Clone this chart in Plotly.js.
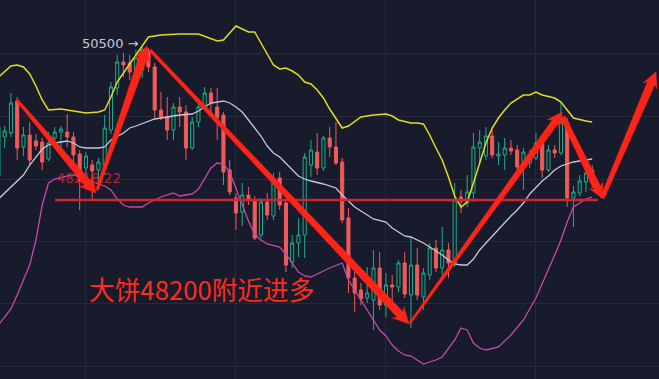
<!DOCTYPE html>
<html>
<head>
<meta charset="utf-8">
<script src="https://cdn.plot.ly/plotly-3.0.1.min.js"></script>
<style>
html,body{margin:0;padding:0;background:#171b2c;}
#chart{width:659px;height:379px;}
</style>
</head>
<body>
<div id="chart"></div>
<script>
// ---- candle data (index 0..95) ----
const openP  = [48560,49145,49205,49685,48995,49175,49085,49070,48815,49130,49220,49220,49145,48890,48680,48725,48650,48725,49250,49880,50270,50255,50105,50150,50420,50195,49550,49445,49250,49595,49520,48980,49370,49595,49805,49595,49475,48650,48230,48020,48275,48200,47675,48170,47960,48530,48155,47270,47555,47675,48725,48920,48680,49130,48995,48770,47930,47030,46850,46730,46700,47180,46625,46925,46895,47255,46775,47225,46745,47075,47480,47180,47450,47255,48245,48155,48305,48980,48860,49160,48860,48875,48980,48950,48725,48755,48830,49055,48650,48950,48905,49370,48230,48305,48470,48650];
const highP  = [49400,49310,49805,49745,49295,49370,49190,49130,49220,49295,49310,49490,49220,48950,48920,48800,48830,49475,49970,50375,50405,50375,50450,50500,50480,50255,49820,49745,49655,49745,49625,49445,49730,49895,49880,49880,49520,48800,48305,48455,48395,48260,48230,48305,48605,48620,48200,47675,47930,48905,49100,49205,49160,49295,49370,48830,48080,47120,46955,47195,47450,47420,47105,47075,47300,47420,47645,47480,47180,47555,47600,47795,47555,48455,48350,48575,49205,49250,49295,49250,49070,49130,49100,49025,48980,48950,49205,49100,49025,49025,49670,49430,48410,48575,48680,48725];
const lowP   = [48470,48980,49145,48800,48860,48725,48950,48650,48785,49010,48980,48995,48755,48050,48575,48218,48425,48575,49190,49775,50045,50000,50000,50030,50120,49430,49400,49100,49100,49295,48800,48950,49295,49550,49520,49100,48425,48275,47750,47810,48125,47600,47630,47900,47900,48050,47120,47180,47345,47330,48545,48575,48635,48845,48725,47855,46805,46520,46625,46655,46250,46550,46445,46670,46820,46730,46280,46700,46550,47000,47120,47075,47030,47195,48005,48095,48170,48725,48800,48830,48725,48650,48875,48650,48350,48680,48800,48530,48620,48830,48875,48095,47795,48260,48320,48380];
const closeP = [49295,49235,49655,48980,49175,48800,49010,48770,49055,49220,49265,49145,48875,48485,48860,48635,48770,49280,49895,50270,50225,50120,50330,50450,50195,49550,49445,49250,49595,49520,48980,49370,49595,49805,49655,49430,48620,48320,48005,48275,48200,47630,48170,47975,48455,48125,47225,47555,47675,48845,48950,48680,49130,48995,48755,47900,47030,46805,46715,46805,47180,46625,46925,46895,47255,46790,47225,46775,47105,47480,47180,47450,47255,48200,48185,48320,48995,49070,49160,48875,48890,48980,48935,48695,48920,48860,49055,48650,48950,48905,49370,48230,48320,48485,48605,48455];

// ---- Bollinger bands ----
const upperX = [0,2,3,4,5,6,7,8,10,11,13,14,16,17,18,19,20,21,22,23,24,26,29,32,34,35,36,37,38,40,41,42,43,44,45,46,47,48,49,50,51,52,53,54,55,56,58,60,62,63,64,66,67,68,69,70,71,72,73,74,75,76,77,78,79,80,81,82,84,85,86,87,89,90,91,92,94,95];
const upperY = [50045,50210,50225,50195,50090,49910,49700,49550,49565,49550,49520,49505,49520,49550,49745,49970,50105,50240,50360,50510,50645,50675,50690,50690,50615,50585,50600,50705,50810,50720,50720,50555,50390,50225,50165,50180,50135,50075,49970,49940,49850,49730,49565,49430,49280,49310,49445,49475,49490,49460,49400,49355,49355,49340,49175,48980,48800,48545,48260,48095,48170,48455,48755,49055,49280,49430,49550,49655,49775,49775,49820,49775,49730,49670,49550,49430,49385,49370];
const midX = [0,2,3,4,5,6,7,8,9,10,11,12,13,14,16,17,18,20,21,22,24,25,27,29,31,32,33,34,36,37,38,39,40,41,42,43,44,45,46,47,48,49,50,52,54,55,56,57,58,59,60,62,63,64,65,66,67,68,69,70,71,72,73,74,75,76,77,78,79,80,81,82,83,84,85,86,87,88,89,90,91,92,94,95];
const midY = [48215,48395,48470,48575,48725,48845,48965,49025,49055,49070,49085,49055,48995,48980,48980,48995,49100,49205,49280,49310,49385,49415,49445,49475,49490,49535,49595,49655,49685,49655,49595,49520,49400,49280,49160,49010,48905,48845,48755,48665,48560,48515,48485,48440,48380,48275,48185,48095,48035,47975,47915,47870,47780,47720,47660,47645,47600,47555,47495,47435,47375,47300,47240,47225,47225,47315,47450,47555,47660,47765,47870,47960,48050,48155,48290,48395,48485,48560,48650,48710,48740,48770,48800,48815];
const lowerX = [0,2,3,4,5,6,7,8,9,11,12,13,15,16,17,18,19,20,21,23,24,25,26,28,29,30,31,32,33,34,35,36,37,38,39,40,41,42,43,45,46,47,48,49,50,51,53,55,56,57,58,59,60,61,62,63,64,65,66,67,68,69,70,71,72,73,74,75,76,77,78,80,82,84,86,88,89,90,91,92,93,94,95];
const lowerY = [46325,46565,46775,47015,47225,47600,48125,48455,48515,48560,48575,48545,48470,48440,48410,48350,48215,48125,48095,48095,48155,48200,48245,48305,48260,48275,48290,48365,48530,48680,48755,48740,48620,48380,48110,47885,47690,47600,47540,47495,47390,47255,47120,47060,47045,47090,47180,47255,47000,46850,46700,46550,46400,46250,46160,46025,45935,45875,45860,45800,45740,45770,45800,45845,45980,46100,46280,46250,46055,45980,45950,45995,46175,46400,46730,47150,47375,47600,47870,48095,48155,48215,48245];

// ---- drawn marks ----
const supportLevel = 48200;
const highLabel = "50500 \u2192";
const lowLabel = "48218.22";
const noteText = "大饼48200附近进多";
// arrows: [x0, y0, x1, y1] in candle index / price
const arrows = [
  [2.97, 49700, 15.6, 48305],
  [15.77, 48350, 23.77, 50510],
  [24.25, 50450, 65.7, 46340],
  [65.85, 46355, 90.2, 49520],
  [90.3, 49445, 96.6, 48230],
  [96.6, 48230, 105.2, 50120]
];
const arrowStyle = [
  {w0:2.5,w1:8,hw:17,hl:16},
  {w0:2.5,w1:8.5,hw:16,hl:15},
  {w0:3,w1:8,hw:16,hl:16},
  {w0:2,w1:7,hw:15,hl:15},
  {w0:5,w1:7.5,hw:15,hl:14},
  {w0:4,w1:8,hw:15,hl:15}
];

const W = 659, H = 379;
const xr = [0.248, 105.69];
const yr = [45515, 51200];
const sx = W/(xr[1]-xr[0]), sy = H/(yr[1]-yr[0]);
const toPx = (x,y)=>[(x-xr[0])*sx, (yr[1]-y)*sy];
const toData = (X,Y)=>[xr[0]+X/sx, yr[1]-Y/sy];

function arrowPath(a, s){
  const [X0,Y0] = toPx(a[0],a[1]);
  const [X1,Y1] = toPx(a[2],a[3]);
  const L = Math.hypot(X1-X0, Y1-Y0);
  const dx=(X1-X0)/L, dy=(Y1-Y0)/L;
  const nx=-dy, ny=dx;
  const Bx = X1-dx*s.hl, By = Y1-dy*s.hl;
  const Cx = X1-dx*(s.hl*0.8), Cy = Y1-dy*(s.hl*0.8);
  const pts = [
    [X0+nx*s.w0/2, Y0+ny*s.w0/2],
    [Cx+nx*s.w1/2, Cy+ny*s.w1/2],
    [Bx+nx*s.hw/2, By+ny*s.hw/2],
    [X1, Y1],
    [Bx-nx*s.hw/2, By-ny*s.hw/2],
    [Cx-nx*s.w1/2, Cy-ny*s.w1/2],
    [X0-nx*s.w0/2, Y0-ny*s.w0/2]
  ].map(p=>toData(p[0],p[1]));
  return 'M' + pts.map(p=>p[0].toFixed(3)+','+p[1].toFixed(2)).join(' L') + ' Z';
}

const idx = openP.map((_,i)=>i);
const BG = '#171b2c';
const traces = [
  {type:'candlestick', x:idx, open:openP, high:highP, low:lowP, close:closeP,
   increasing:{line:{color:'#1fae88', width:1}, fillcolor:BG},
   decreasing:{line:{color:'#ef5b5b', width:1}, fillcolor:'#ef5b5b'},
   whiskerwidth:0, hoverinfo:'skip', showlegend:false},
  {type:'scatter', mode:'lines', x:upperX, y:upperY, line:{color:'#e2dc22', width:1.5}, hoverinfo:'skip', showlegend:false},
  {type:'scatter', mode:'lines', x:midX, y:midY, line:{color:'#c5c8d8', width:1.3}, hoverinfo:'skip', showlegend:false},
  {type:'scatter', mode:'lines', x:lowerX, y:lowerY, line:{color:'#c84aaa', width:1.3}, hoverinfo:'skip', showlegend:false},
  {type:'scatter', mode:'text', x:[22.4], y:[50525], text:[highLabel], textposition:'middle left',
   textfont:{family:'"DejaVu Sans", sans-serif', size:13, color:'#c9cbd6'}, hoverinfo:'skip', showlegend:false},
  {type:'scatter', mode:'text', x:[9.3], y:[48510], text:[lowLabel], textposition:'middle right',
   textfont:{family:'"DejaVu Sans", sans-serif', size:13.5, color:'#b8232b'}, hoverinfo:'skip', showlegend:false}
];

const shapes = [
  {type:'line', xref:'x', yref:'y', x0:9.05, x1:95.9, y0:supportLevel, y1:supportLevel,
   line:{color:'#d42430', width:2.4}, layer:'above'}
];
arrows.forEach((a,k)=>{
  shapes.push({type:'path', xref:'x', yref:'y', path:arrowPath(a, arrowStyle[k]),
    fillcolor:'#ff2418', line:{color:'#ff2418', width:0.5}, layer:'above'});
});

const layout = {
  width:W, height:H,
  margin:{l:0,r:0,t:0,b:0,pad:0},
  paper_bgcolor:BG, plot_bgcolor:BG,
  showlegend:false,
  xaxis:{range:xr, fixedrange:true, showticklabels:false, tickvals:[14,38,62,86],
         showgrid:true, gridcolor:'#242a3b', gridwidth:1, zeroline:false, showline:false,
         rangeslider:{visible:false}},
  yaxis:{range:yr, fixedrange:true, showticklabels:false, tickvals:[50405,49460,48515,47585,46655,45710],
         showgrid:true, gridcolor:'#242a3b', gridwidth:1, zeroline:false, showline:false},
  shapes:shapes,
  annotations:[
    {xref:'x', yref:'y', x:14.1, y:46880, xanchor:'left', yanchor:'middle', showarrow:false,
     text:noteText, font:{family:'"Noto Sans CJK SC", sans-serif', size:25.7, color:'#ff2a1f'}}
  ]
};

Plotly.newPlot('chart', traces, layout, {staticPlot:true, displayModeBar:false});
</script>
</body>
</html>
